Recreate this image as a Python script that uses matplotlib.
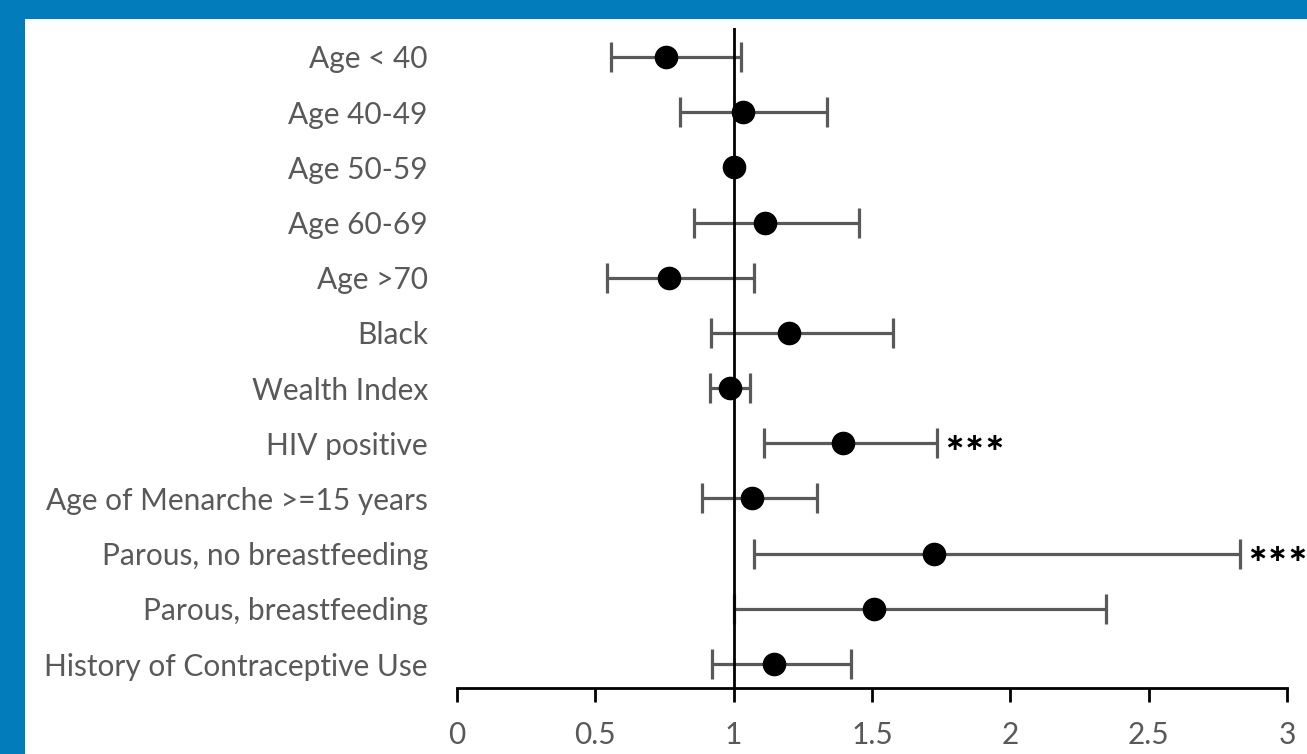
import matplotlib
matplotlib.use("Agg")
import matplotlib.pyplot as plt
from matplotlib.patches import Rectangle

categories = ["Age < 40", "Age 40-49", "Age 50-59", "Age 60-69", "Age >70", "Black",
              "Wealth Index", "HIV positive", "Age of Menarche >=15 years",
              "Parous, no breastfeeding", "Parous, breastfeeding",
              "History of Contraceptive Use"]
estimate = [0.754, 1.034, 1.0, 1.115, 0.766, 1.199, 0.987, 1.395, 1.066, 1.724, 1.506, 1.146]
ci_low   = [0.555, 0.806, 1.0, 0.855, 0.542, 0.917, 0.914, 1.11, 0.885, 1.073, 1.0, 0.92]
ci_high  = [1.026, 1.336, 1.0, 1.453, 1.073, 1.575, 1.059, 1.735, 1.30, 2.83, 2.345, 1.424]
signif   = ["", "", "", "", "", "", "", "***", "", "***", "", ""]
xticks = [0, 0.5, 1, 1.5, 2, 2.5, 3]
xticklabels = ["0", "0.5", "1", "1.5", "2", "2.5", "3"]

W, H = 1307, 754
fig = plt.figure(figsize=(W / 100, H / 100), dpi=100)
fig.patch.set_facecolor("#027CBA")
fig.patches.append(Rectangle((25 / W, 0), 1 - 25 / W, 1 - 19 / H, transform=fig.transFigure,
                             facecolor="white", edgecolor="none", zorder=-10))

ax = fig.add_axes([457 / W, 66 / H, (1287 - 457) / W, (688 - 28) / H])
ax.set_zorder(5)
ax.set_facecolor("none")
gray = "#595959"
font = "Lato"

ys = list(range(len(categories)))
for y, e, lo, hi in zip(ys, estimate, ci_low, ci_high):
    if hi > lo:
        ax.errorbar(e, y, xerr=[[e - lo], [hi - e]], fmt="none", ecolor=gray,
                    elinewidth=2.3, capsize=11, capthick=2.3, zorder=2)
ax.plot(estimate, ys, "o", color="black", markersize=16, zorder=4, linestyle="none")
ax.axvline(1, color="black", linewidth=2, zorder=3)

for y, hi, s in zip(ys, ci_high, signif):
    if s:
        ax.annotate(s.replace("*", "\u2217"), xy=(hi, y), xytext=(5, 0), textcoords="offset points",
                    ha="left", va="center", fontsize=17.5, fontweight="bold", color="black",
                    family="DejaVu Sans", clip_on=False)

ax.set_xlim(0, 3)
ax.set_ylim(11 + 24 / 55.2, -29 / 55.2)
ax.set_xticks(xticks)
ax.set_xticklabels(xticklabels, family=font, fontsize=21.5, color=gray)
ax.set_yticks(ys)
ax.set_yticklabels(categories, family=font, fontsize=21.5, color=gray)
ax.tick_params(axis="y", length=0, pad=21)
ax.tick_params(axis="x", direction="out", length=10, width=2, color="black", pad=14)
for side in ["left", "right", "top"]:
    ax.spines[side].set_visible(False)
ax.spines["bottom"].set_linewidth(2)
ax.spines["bottom"].set_color("black")

fig.savefig("out.png", dpi=100, facecolor=fig.get_facecolor())
